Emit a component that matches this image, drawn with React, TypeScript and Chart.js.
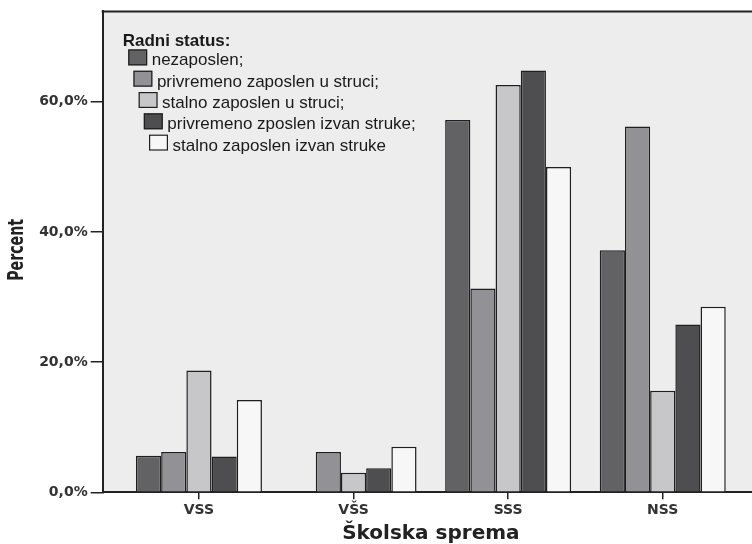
import { useEffect, useRef } from 'react';
import { Chart, registerables } from 'chart.js';

Chart.register(...registerables);

const categories = ['VSS', 'VŠS', 'SSS', 'NSS'];
const seriesLabels = [
  'nezaposlen;',
  'privremeno zaposlen u struci;',
  'stalno zaposlen u struci;',
  'privremeno zposlen izvan struke;',
  'stalno zaposlen izvan struke',
];
const nezaposlen = [5.6, 0, 57.2, 37.2];
const privremenoUStruci = [6.2, 6.2, 31.3, 56.2];
const stalnoUStruci = [18.7, 3.0, 62.6, 15.6];
const privremenoIzvanStruke = [5.5, 3.7, 64.8, 25.8];
const stalnoIzvanStruke = [14.2, 7.0, 50.0, 28.5];
const yTicks = [0, 20, 40, 60];
const yMax = 73.9;
const legendTitle = 'Radni status:';
const xTitle = 'Školska sprema';
const yTitle = 'Percent';

const seriesValues = [nezaposlen, privremenoUStruci, stalnoUStruci, privremenoIzvanStruke, stalnoIzvanStruke];
const seriesColors = ['#626264', '#929296', '#c7c7c9', '#4e4e50', '#f7f7f7'];

const frameColor = '#222222';

const backgroundPlugin = {
  id: 'plotBackground',
  beforeDraw(chart: any) {
    const { ctx, chartArea } = chart;
    ctx.save();
    ctx.fillStyle = '#ededed';
    ctx.fillRect(chartArea.left, chartArea.top, chartArea.right - chartArea.left, chartArea.bottom - chartArea.top);
    ctx.restore();
  },
  afterDraw(chart: any) {
    const { ctx, chartArea } = chart;
    ctx.save();
    ctx.strokeStyle = frameColor;
    ctx.lineWidth = 2;
    ctx.beginPath();
    ctx.moveTo(chartArea.left - 1, chartArea.top);
    ctx.lineTo(chartArea.right, chartArea.top);
    ctx.stroke();

    // y-axis title (condensed bold, vertical)
    ctx.save();
    ctx.translate(17.5, (chartArea.top + chartArea.bottom) / 2 - 2);
    ctx.rotate(-Math.PI / 2);
    ctx.fillStyle = '#222222';
    ctx.font = "bold 21px 'DejaVu Sans Condensed', 'DejaVu Sans', sans-serif";
    ctx.textAlign = 'center';
    ctx.textBaseline = 'middle';
    ctx.fillText(yTitle, 0, 0, 62);
    ctx.restore();

    // legend
    const font = "'Liberation Sans', Arial, sans-serif";
    ctx.fillStyle = '#1a1a1a';
    ctx.font = 'bold 17px ' + font;
    ctx.textBaseline = 'alphabetic';
    ctx.textAlign = 'left';
    ctx.fillText(legendTitle, chartArea.left + 20, chartArea.top + 35);
    chart.data.datasets.forEach((ds: any, i: number) => {
      const sx = chartArea.left + 25.5 + i * 5.2;
      const sy = chartArea.top + 38 + i * 21.3;
      ctx.fillStyle = ds.backgroundColor;
      ctx.fillRect(sx, sy, 19, 16);
      ctx.strokeStyle = '#1f1f1f';
      ctx.lineWidth = 1.2;
      ctx.strokeRect(sx + 0.6, sy + 0.6, 17.8, 14.8);
      ctx.fillStyle = '#1a1a1a';
      ctx.font = '17px ' + font;
      ctx.textBaseline = 'alphabetic';
      ctx.fillText(ds.label, sx + 23.5, sy + 16);
    });
    ctx.restore();
  },
};

export default function App() {
  const canvasRef = useRef<HTMLCanvasElement | null>(null);

  useEffect(() => {
    const canvas = canvasRef.current;
    if (!canvas) return;
    const chart = new Chart(canvas, {
      type: 'bar',
      data: {
        datasets: seriesValues.map((vals, si) => ({
          label: seriesLabels[si],
          data: vals.map((v, i) => ({ x: i, y: v })),
          backgroundColor: seriesColors[si],
          borderColor: '#1f1f1f',
          borderWidth: 1.5,
          categoryPercentage: 0.815,
          barPercentage: 1,
        })),
      },
      options: {
        responsive: false,
        animation: false,
        layout: { padding: { top: 11, right: 21, left: 0, bottom: 0 } },
        plugins: {
          legend: { display: false },
          tooltip: { enabled: false },
        },
        scales: {
          x: {
            type: 'linear',
            offset: false,
            min: -0.6226,
            max: 3.6226,
            afterBuildTicks: (s: any) => {
              s.ticks = categories.map((_, i) => ({ value: i }));
            },
            afterFit: (s: any) => {
              s.height = 51.7;
            },
            ticks: {
              autoSkip: false,
              maxRotation: 0,
              padding: 2.5,
              color: '#333333',
              font: { family: "'DejaVu Sans', sans-serif", weight: 'bold', size: 14 },
              callback: (v: any) => categories[v as number] ?? '',
            },
            grid: { offset: false, drawOnChartArea: false, drawTicks: true, tickLength: 7, color: frameColor, lineWidth: 1.5 },
            border: { display: true, color: frameColor, width: 2 },
            title: {
              display: true,
              text: xTitle,
              color: '#222222',
              font: { family: "'DejaVu Sans', sans-serif", weight: 'bold', size: 20, lineHeight: 1 },
              padding: { top: 0, bottom: 0 },
            },
          },
          y: {
            min: 0,
            max: yMax,
            afterBuildTicks: (s: any) => {
              s.ticks = yTicks.map((v) => ({ value: v }));
            },
            afterFit: (s: any) => {
              s.width = 102.7;
            },
            ticks: {
              padding: 3,
              color: '#333333',
              font: { family: "'DejaVu Sans', sans-serif", weight: 'bold', size: 14 },
              callback: (v: any) => (v as number).toFixed(1).replace('.', ',') + '%',
            },
            grid: { drawOnChartArea: false, drawTicks: true, tickLength: 12, color: frameColor, lineWidth: 1.5 },
            border: { display: true, color: frameColor, width: 2 },
            title: { display: false },
          },
        },
      },
      plugins: [backgroundPlugin],
    } as any);
    return () => chart.destroy();
  }, []);

  return (
    <div style={{ position: 'fixed', left: 0, top: 0, width: 780, height: 544, overflow: 'hidden', background: '#ffffff' }}>
      <canvas ref={canvasRef} width={780} height={544} style={{ width: 780, height: 544, display: 'block' }} />
    </div>
  );
}
